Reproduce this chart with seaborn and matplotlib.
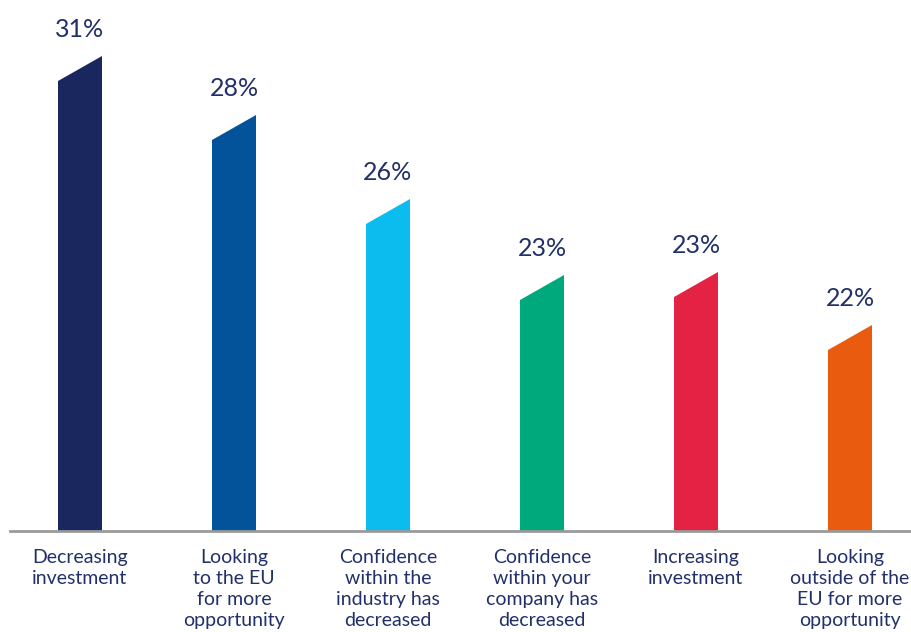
import matplotlib
matplotlib.use("Agg")
import matplotlib.pyplot as plt
from matplotlib.patches import Polygon
import seaborn as sns

# categories and the printed values
categories = [
    "Decreasing\ninvestment",
    "Looking\nto the EU\nfor more\nopportunity",
    "Confidence\nwithin the\nindustry has\ndecreased",
    "Confidence\nwithin your\ncompany has\ndecreased",
    "Increasing\ninvestment",
    "Looking\noutside of the\nEU for more\nopportunity",
]
values = [31, 28, 26, 23, 23, 22]

# drawn heights (right, higher corner) - the original is not to scale
drawn_heights = [31.3, 27.4, 21.9, 16.9, 17.1, 13.6]
slant = 1.65

colors = ["#1a275f", "#03539a", "#0cbcee", "#00a97b", "#e42244", "#e95c0f"]
text_color = "#22306a"

sns.set_style("white")
plt.rcParams["font.family"] = ["Lato", "DejaVu Sans"]

fig = plt.figure(figsize=(9.12, 6.32), dpi=100)
ax = fig.add_axes([10 / 912, 1 - 531 / 632, 902 / 912, 531 / 632])

body = [h - slant for h in drawn_heights]
sns.barplot(x=list(range(len(categories))), y=body, hue=list(range(len(categories))),
            palette=colors, width=0.286, legend=False, ax=ax, saturation=1, linewidth=0)

for patch, col, val in zip(ax.patches, colors, values):
    x0 = patch.get_x()
    w = patch.get_width()
    top = patch.get_height()
    tri = Polygon([(x0, top - 0.01), (x0 + w, top - 0.01), (x0 + w, top + slant)],
                  closed=True, facecolor=col, edgecolor="none")
    ax.add_patch(tri)
    ax.text(x0 + w / 2, top + slant + 1.75, f"{val}%", ha="center", va="center",
            fontsize=18, color=text_color)

ax.set_xlim(-70 / 154, 832 / 154)
ax.set_ylim(0, 35)
ax.set_yticks([])
ax.set_xticks(range(len(categories)))
ax.set_xticklabels(categories, fontsize=14, color=text_color, linespacing=1.28)
ax.tick_params(axis="x", length=0, pad=13)
for s in ["top", "left", "right"]:
    ax.spines[s].set_visible(False)
ax.spines["bottom"].set_color("#9a9a9a")
ax.spines["bottom"].set_linewidth(2)
ax.set_xlabel("")
ax.set_ylabel("")

fig.savefig("out.png", dpi=100)
